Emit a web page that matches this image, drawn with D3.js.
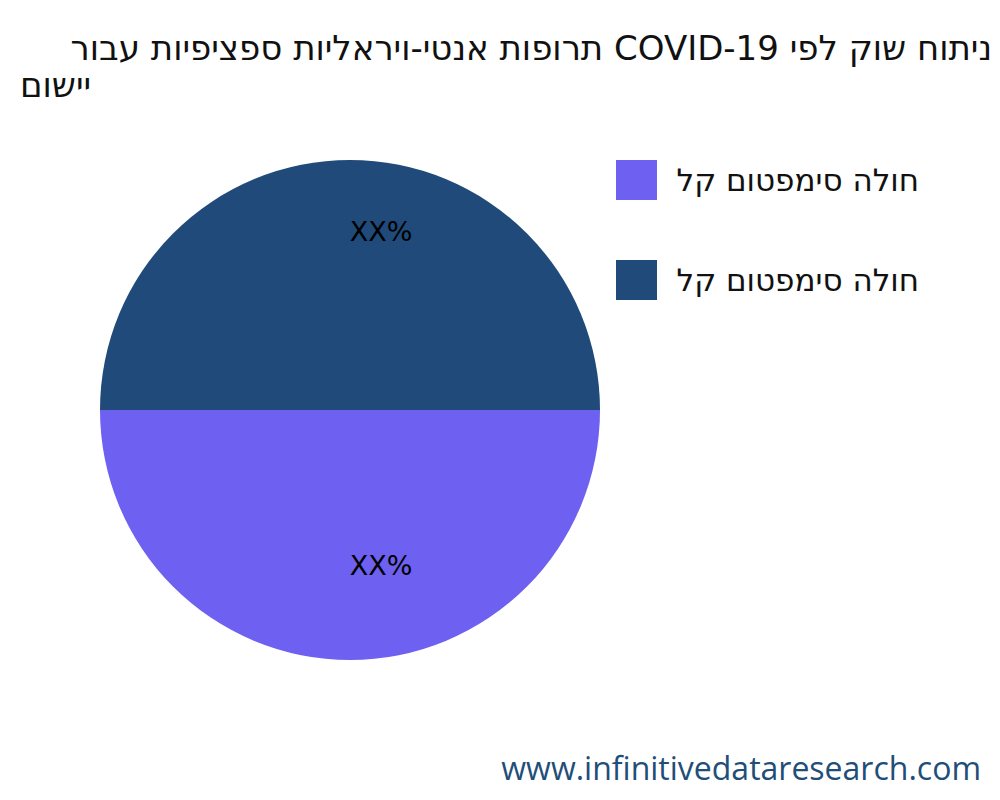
<!DOCTYPE html>
<html lang="he">

<head>
    <meta charset="UTF-8">
    <title>Pie</title>
    <style>
        body {
            margin: 0;
            background: #ffffff;
        }

        text {
            font-family: "DejaVu Sans", sans-serif;
        }
    </style>
</head>

<body>
    <div id="chart"></div>
</body>
<script src="https://d3js.org/d3.v7.min.js"></script>
<script>
    // chart values
    var categories = ["חולה סימפטום קל", "חולה סימפטום קל"];
    var values = [50, 50];
    var sliceLabels = ["XX%", "XX%"];
    var colors = ["#6E60F1", "#1F4A7A"];
    var titleLines = ["תרופות אנטי-ויראליות ספציפיות עבור COVID-19 ניתוח שוק לפי", "יישום"];
    var footer = "www.infinitivedataresearch.com";

    var W = 1000, H = 800;
    var cx = 350, cy = 410, radius = 250;

    var svg = d3.select("#chart").append("svg")
        .attr("width", W)
        .attr("height", H);

    // title: first line hangs off to the left, second line starts at the left margin
    svg.append("text")
        .attr("x", 992)
        .attr("y", 60)
        .attr("text-anchor", "end")
        .style("font-size", "34px")
        .style("fill", "#111111")
        .text(titleLines[0]);

    svg.append("text")
        .attr("x", 20)
        .attr("y", 97)
        .style("font-size", "34px")
        .style("fill", "#111111")
        .text(titleLines[1]);

    // pie
    var pie = d3.pie()
        .sort(null)
        .startAngle(Math.PI / 2)
        .endAngle(Math.PI / 2 + 2 * Math.PI);
    var arcs = pie(values);

    var arc = d3.arc().innerRadius(0).outerRadius(radius);
    var labelArc = d3.arc().innerRadius(167).outerRadius(167);

    var g = svg.append("g")
        .attr("transform", "translate(" + cx + "," + cy + ")");

    g.selectAll("path")
        .data(arcs)
        .enter()
        .append("path")
        .attr("d", arc)
        .style("fill", function (d, i) { return colors[i]; });

    g.selectAll("text")
        .data(arcs)
        .enter()
        .append("text")
        .attr("transform", function (d) {
            var c = labelArc.centroid(d);
            return "translate(" + (c[0] + 31) + "," + (c[1] - 11) + ")";
        })
        .attr("text-anchor", "middle")
        .attr("dy", "0.35em")
        .style("font-size", "27px")
        .style("fill", "#000000")
        .text(function (d, i) { return sliceLabels[i]; });

    // legend
    var legend = svg.append("g")
        .attr("transform", "translate(616,160)");

    var item = legend.selectAll("g")
        .data(categories)
        .enter()
        .append("g")
        .attr("transform", function (d, i) { return "translate(0," + (i * 100) + ")"; });

    item.append("rect")
        .attr("width", 41)
        .attr("height", 40)
        .style("fill", function (d, i) { return colors[i]; });

    item.append("text")
        .attr("direction", "rtl")
        .attr("x", 303)
        .attr("y", 20)
        .attr("dy", "0.35em")
        .attr("text-anchor", "start")
        .style("font-size", "31px")
        .style("fill", "#111111")
        .text(function (d) { return d; });

    // footer
    svg.append("text")
        .attr("x", 981)
        .attr("y", 780)
        .attr("text-anchor", "end")
        .style("font-family", "'Open Sans', sans-serif")
        .style("font-size", "32px")
        .style("fill", "#1F4E79")
        .text(footer);
</script>

</html>
